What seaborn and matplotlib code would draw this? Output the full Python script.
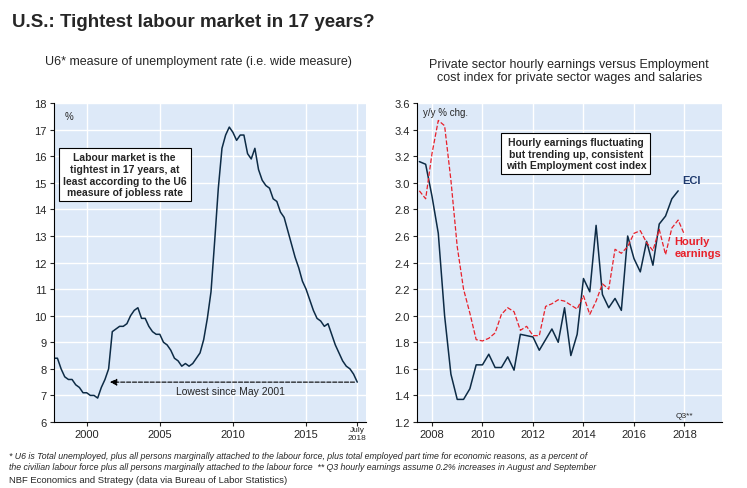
import numpy as np
import pandas as pd
import matplotlib
matplotlib.use("Agg")
import matplotlib.pyplot as plt
import seaborn as sns

# U6 unemployment rate, quarterly readings, 1997Q4 .. July 2018
u6_values = [8.4, 8.4, 8.0, 7.7, 7.6,
             7.6, 7.4, 7.3, 7.1,
             7.1, 7.0, 7.0, 6.9,
             7.3, 7.6, 8.0, 9.4,
             9.5, 9.6, 9.6, 9.7,
             10.0, 10.2, 10.3, 9.9,
             9.9, 9.6, 9.4, 9.3,
             9.3, 9.0, 8.9, 8.7,
             8.4, 8.3, 8.1, 8.2,
             8.1, 8.2, 8.4, 8.6,
             9.1, 9.9, 10.9, 12.8,
             14.8, 16.3, 16.8, 17.1,
             16.9, 16.6, 16.8, 16.8,
             16.1, 15.9, 16.3, 15.5,
             15.1, 14.9, 14.8, 14.4,
             14.3, 13.9, 13.7, 13.2,
             12.7, 12.2, 11.8, 11.3,
             11.0, 10.6, 10.2, 9.9,
             9.8, 9.6, 9.7, 9.3,
             8.9, 8.6, 8.3, 8.1,
             8.0, 7.8, 7.5]
u6_dates = [1997.75 + 0.25 * i for i in range(len(u6_values))]

eci_values = [3.16, 3.14, 2.90, 2.62, 2.00, 1.56, 1.37, 1.37, 1.45, 1.63, 1.63,
              1.71, 1.61, 1.61, 1.69, 1.59, 1.86, 1.85, 1.84, 1.74, 1.82, 1.90,
              1.80, 2.06, 1.70, 1.86, 2.28, 2.18, 2.68, 2.16, 2.06, 2.13, 2.04,
              2.60, 2.43, 2.33, 2.56, 2.38, 2.69, 2.75, 2.88, 2.94]
hourly_values = [2.94, 2.88, 3.22, 3.47, 3.43, 3.02, 2.52, 2.20, 2.02, 1.82, 1.81,
                 1.83, 1.87, 2.01, 2.06, 2.03, 1.89, 1.92, 1.85, 1.85, 2.07, 2.09,
                 2.12, 2.11, 2.08, 2.05, 2.15, 2.01, 2.11, 2.24, 2.20, 2.50, 2.47,
                 2.52, 2.62, 2.64, 2.55, 2.49, 2.65, 2.46, 2.66, 2.72, 2.61]
eci_dates = [2007.5 + 0.25 * i for i in range(len(eci_values))]
hourly_dates = [2007.5 + 0.25 * i for i in range(len(hourly_values))]

u6 = pd.DataFrame({"date": u6_dates, "rate": u6_values})
eci = pd.DataFrame({"date": eci_dates, "chg": eci_values})
hourly = pd.DataFrame({"date": hourly_dates, "chg": hourly_values})

sns.set_style("white")
plt.rcParams["font.family"] = ["Liberation Sans", "DejaVu Sans"]

bg = "#dde9f8"
navy = "#0d2b45"
red = "#e8202a"

fig = plt.figure(figsize=(7.47, 4.89), dpi=100)
ax1 = fig.add_axes([0.072, 0.135, 0.418, 0.652])
ax2 = fig.add_axes([0.558, 0.135, 0.409, 0.652])

for ax in (ax1, ax2):
    ax.set_facecolor(bg)
    ax.grid(True, color="white", lw=1)
    ax.set_axisbelow(True)
    for s in ["top", "right"]:
        ax.spines[s].set_visible(False)
    for s in ["left", "bottom"]:
        ax.spines[s].set_color("black")
        ax.spines[s].set_linewidth(0.8)
    ax.tick_params(labelsize=8, length=3, direction="out", left=True, bottom=True, pad=2)

# left panel
sns.lineplot(data=u6, x="date", y="rate", ax=ax1, color=navy, lw=1.1)
ax1.set_xlim(1997.75, 2019.1)
ax1.set_ylim(6, 18)
ax1.set_yticks(range(6, 19))
ax1.set_xticks([2000, 2005, 2010, 2015, 2018.5])
ax1.set_xticklabels(["2000", "2005", "2010", "2015", ""])
ax1.set_xticks(range(1998, 2019), minor=True)
ax1.tick_params(axis="x", which="minor", length=3)
ax1.grid(False, which="minor")
ax1.text(2018.5, 5.85, "July\n2018", ha="center", va="top", fontsize=6)
ax1.set_xlabel("")
ax1.set_ylabel("")
ax1.text(1998.5, 17.7, "%", fontsize=7, va="top")
ax1.annotate("", xy=(2001.4, 7.5), xytext=(2018.5, 7.5),
             arrowprops=dict(arrowstyle="-|>", ls="--", color="black", lw=0.8))
ax1.text(2009.8, 7.05, "Lowest since May 2001", ha="center", fontsize=7.5)
ax1.text(2002.6, 15.3, "Labour market is the\ntightest in 17 years, at\nleast according to the U6\nmeasure of jobless rate",
         ha="center", va="center", fontsize=7.5, fontweight="bold",
         bbox=dict(boxstyle="square,pad=0.4", fc="white", ec="black", lw=0.8))

# right panel
sns.lineplot(data=eci, x="date", y="chg", ax=ax2, color=navy, lw=1.1)
sns.lineplot(data=hourly, x="date", y="chg", ax=ax2, color=red, lw=0.9, linestyle="--")
ax2.set_xlim(2007.4, 2019.5)
ax2.set_ylim(1.2, 3.6)
ax2.set_yticks(np.arange(1.2, 3.61, 0.2))
ax2.yaxis.set_major_formatter(matplotlib.ticker.FormatStrFormatter("%.1f"))
ax2.set_xticks(range(2008, 2019, 2))
ax2.set_xticks(range(2008, 2020), minor=True)
ax2.tick_params(axis="x", which="minor", length=3)
ax2.grid(False, which="minor")
ax2.set_xlabel("")
ax2.set_ylabel("")
ax2.text(2007.65, 3.57, "y/y % chg.", fontsize=7, va="top")
ax2.text(2018.0, 1.22, "Q3**", fontsize=6, ha="center", va="bottom")
ax2.text(2017.9, 3.0, "ECI", color="#1f3a6e", fontsize=8, fontweight="bold")
ax2.text(2017.6, 2.45, "Hourly\nearnings", color=red, fontsize=8, fontweight="bold", ha="left")
ax2.text(2013.7, 3.22, "Hourly earnings fluctuating\nbut trending up, consistent\nwith Employment cost index",
         ha="center", va="center", fontsize=7.5, fontweight="bold",
         bbox=dict(boxstyle="square,pad=0.4", fc="white", ec="black", lw=0.8))

fig.text(0.016, 0.945, "U.S.: Tightest labour market in 17 years?", fontsize=13.5, fontweight="bold")
fig.text(0.265, 0.868, "U6* measure of unemployment rate (i.e. wide measure)", ha="center", fontsize=9)
fig.text(0.762, 0.835, "Private sector hourly earnings versus Employment\ncost index for private sector wages and salaries",
         ha="center", fontsize=9, linespacing=1.1)
fig.text(0.012, 0.035, "* U6 is Total unemployed, plus all persons marginally attached to the labour force, plus total employed part time for economic reasons, as a percent of\n"
         "the civilian labour force plus all persons marginally attached to the labour force  ** Q3 hourly earnings assume 0.2% increases in August and September",
         fontsize=6.3, style="italic", va="bottom", linespacing=1.3)
fig.text(0.012, 0.008, "NBF Economics and Strategy (data via Bureau of Labor Statistics)", fontsize=6.8, va="bottom")

fig.savefig("out.png", dpi=100)
